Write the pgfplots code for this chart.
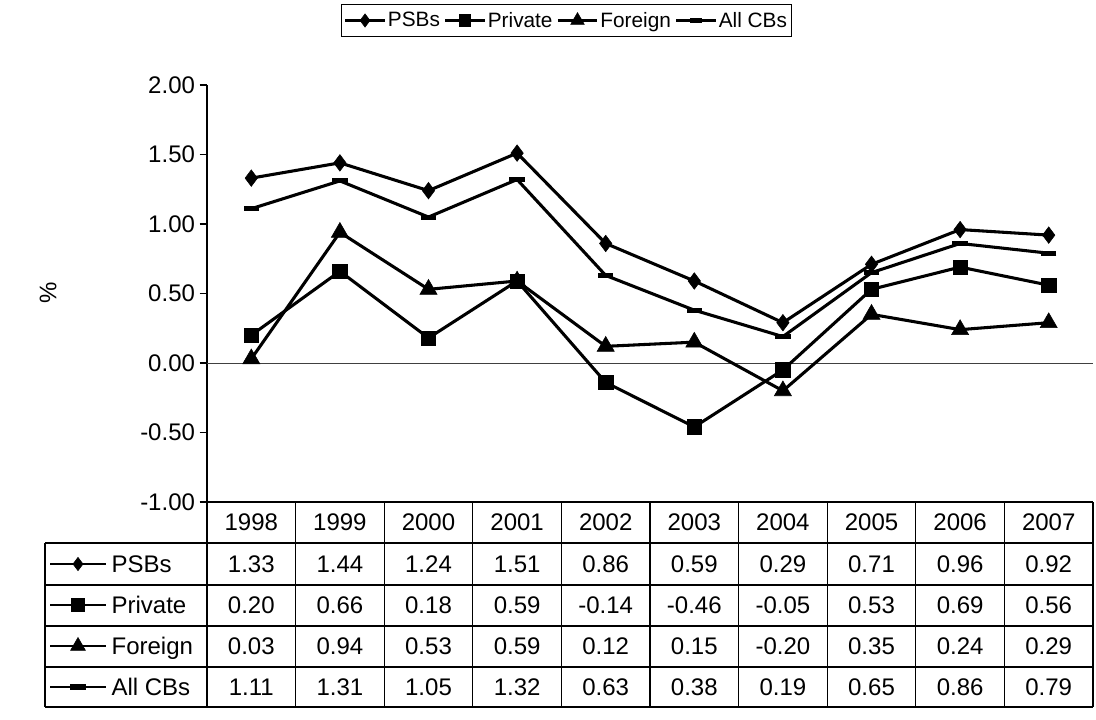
\documentclass[border=0pt]{standalone}
\usepackage{fontspec}
\setmainfont{Liberation Sans}
\usepackage{pgfplots}
\usepackage{pgfplotstable}
\pgfplotsset{compat=1.18}

% Return on assets by bank group, 1998-2007
\pgfplotstableread{
x year psb pvt fgn all
0 1998 1.33 0.20 0.03 1.11
1 1999 1.44 0.66 0.94 1.31
2 2000 1.24 0.18 0.53 1.05
3 2001 1.51 0.59 0.59 1.32
4 2002 0.86 -0.14 0.12 0.63
5 2003 0.59 -0.46 0.15 0.38
6 2004 0.29 -0.05 -0.20 0.19
7 2005 0.71 0.53 0.35 0.65
8 2006 0.96 0.69 0.24 0.86
9 2007 0.92 0.56 0.29 0.79
}\banks

\pgfplotsset{
  psbline/.style={black, line width=2.3pt, mark=diamond*, mark size=6.2pt,
    mark options={solid, line width=0.4pt}},
  pvtline/.style={black, line width=2.3pt, mark=square*, mark size=5.4pt,
    mark options={solid, line width=0.4pt}},
  fgnline/.style={black, line width=2.3pt, mark=triangle*, mark size=7.4pt,
    mark options={solid, line width=0.4pt}},
  allline/.style={black, line width=2.3pt, mark=-, mark size=5.8pt,
    mark options={solid, line width=3.8pt}},
}

\newcommand{\bigfont}{\fontsize{18}{21}\selectfont}
\newcommand{\legfont}{\fontsize{15.6}{18}\selectfont}

\begin{document}
\begin{tikzpicture}
\useasboundingbox (0,0) rectangle (822pt,539.25pt);

% main chart area
\begin{axis}[
  at={(155.25pt,162.75pt)}, anchor=south west,
  scale only axis, width=664.5pt, height=312.75pt,
  xmin=-0.5, xmax=9.5, ymin=-1, ymax=2,
  axis x line=none, axis y line*=left,
  axis line style={line width=1pt, black},
  xtick=\empty,
  ytick={-1,-0.5,0,0.5,1,1.5,2},
  tick align=outside, major tick length=5.5pt,
  ytick style={line width=1pt, black},
  /pgf/number format/assume math mode=true,
  yticklabel style={font=\bigfont, /pgf/number format/.cd, fixed, fixed zerofill, precision=2},
  clip=false,
  legend columns=4,
  legend image code/.code={
    \draw[mark repeat=2, mark phase=2, line width=1.8pt, mark size=0.8*\pgfplotmarksize]
      plot coordinates {(0cm,0cm) (0.52cm,0cm) (1.04cm,0cm)};
  },
  legend style={at={(0.4058,1.1547)}, anchor=center, draw=black, line width=0.8pt,
    font=\legfont, inner xsep=2pt, inner ysep=4pt,
    nodes={font=\legfont, inner sep=1.5pt},
    /tikz/every even column/.append style={column sep=1.5pt}},
]
\draw[line width=0.7pt, black!75] (axis cs:-0.5,0) -- (axis cs:9.5,0);
\addplot[psbline] table[x=x, y=psb] {\banks};
\addlegendentry{PSBs}
\addplot[pvtline] table[x=x, y=pvt] {\banks};
\addlegendentry{Private}
\addplot[fgnline] table[x=x, y=fgn] {\banks};
\addlegendentry{Foreign}
\addplot[allline] table[x=x, y=all] {\banks};
\addlegendentry{All CBs}
\end{axis}

% keys in the data table, on a pixel grid
\begin{axis}[
  at={(0pt,0pt)}, anchor=south west,
  scale only axis, width=822pt, height=539.25pt,
  hide axis, xmin=0, xmax=1096, ymin=0, ymax=719, y dir=reverse,
  clip=false,
]
\addplot[psbline, mark indices={2}, line width=1.8pt, mark size=5pt] coordinates {(50,564) (78,564) (106,564)};
\addplot[pvtline, mark indices={2}, line width=1.8pt, mark size=4.8pt] coordinates {(50,605) (78,605) (106,605)};
\addplot[fgnline, mark indices={2}, line width=1.8pt, mark size=6.4pt] coordinates {(50,646) (78,646) (106,646)};
\addplot[allline, mark indices={2}, line width=1.8pt] coordinates {(50,687) (78,687) (106,687)};
\end{axis}

% data table
\begin{scope}[x=0.75pt, y=-0.75pt, shift={(0pt,539.25pt)}, line width=0.9pt]
  \draw (207,502) -- (1093,502);
  \foreach \yy in {543,585,626,667,707} \draw (45,\yy) -- (1093,\yy);
  \draw (45,543) -- (45,707);
  \foreach \k in {0,...,10} \draw (207+88.6*\k,502) -- (207+88.6*\k,707);
  \foreach \i in {0,...,9} {
    \pgfplotstablegetelem{\i}{year}\of\banks
    \node[font=\bigfont] at (251.3+88.6*\i,522) {\pgfplotsretval};
  }
  \foreach \c/\yc in {psb/564, pvt/605, fgn/646, all/687} {
    \foreach \i in {0,...,9} {
      \pgfplotstablegetelem{\i}{\c}\of\banks
      \node[font=\bigfont] at (251.3+88.6*\i,\yc)
        {\pgfmathprintnumber[fixed, fixed zerofill, precision=2, assume math mode=true]{\pgfplotsretval}};
    }
  }
  \foreach \lab/\yc in {PSBs/564, Private/605, Foreign/646, All CBs/687}
    \node[font=\bigfont, anchor=base west, inner sep=0pt] at (111,\yc+8.5) {\lab};
  \node[font=\bigfont, rotate=90] at (48,293) {\%};
\end{scope}
\end{tikzpicture}
\end{document}
